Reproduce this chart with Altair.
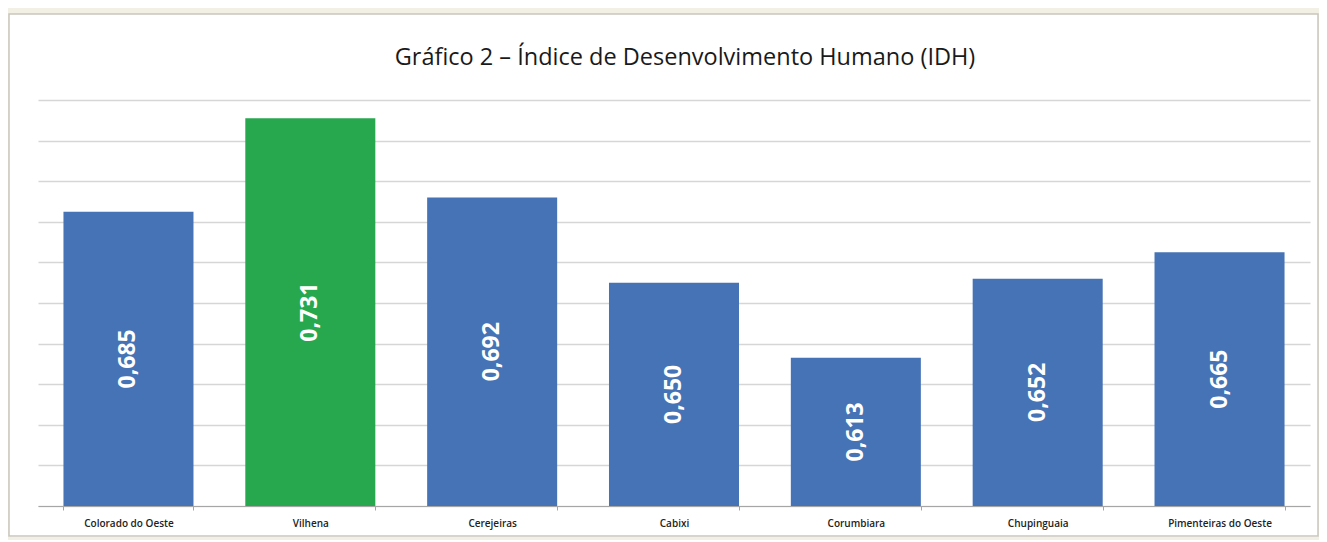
import altair as alt
import pandas as pd

titulo = "Gráfico 2 – Índice de Desenvolvimento Humano (IDH)"
municipios = ["Colorado do Oeste", "Vilhena", "Cerejeiras", "Cabixi",
              "Corumbiara", "Chupinguaia", "Pimenteiras do Oeste"]
idh = [0.685, 0.731, 0.692, 0.650, 0.613, 0.652, 0.665]
cores = ["#4673b5", "#27a84f", "#4673b5", "#4673b5", "#4673b5", "#4673b5", "#4673b5"]
grid_vals = [0.54, 0.56, 0.58, 0.60, 0.62, 0.64, 0.66, 0.68, 0.70, 0.72, 0.74]

df = pd.DataFrame({"municipio": municipios, "idh": idh, "cor": cores})
df_t = pd.DataFrame({"t": [titulo]})

W, H = 1272, 406
ymin, ymax = 0.54, 0.74

base = alt.Chart(df)

# beige surround (wide stroke just outside the white panel) and the panel border
surround = alt.Chart(df_t).mark_rect(
    fillOpacity=0, stroke="#f2efe4", strokeWidth=14, clip=False
).encode(x=alt.value(-36), x2=alt.value(1287), y=alt.value(-93), y2=alt.value(444))

border = alt.Chart(df_t).mark_rect(
    fillOpacity=0, stroke="#c9c6bd", strokeWidth=1.5, clip=False
).encode(x=alt.value(-29), x2=alt.value(1280), y=alt.value(-86), y2=alt.value(436))

title_txt = alt.Chart(df_t).mark_text(
    font="Open Sans", fontSize=23.5, color="#1a1a1a", align="center", baseline="middle"
).encode(x=alt.value(W / 2 + 11), y=alt.value(-42), text="t:N")

x_enc = alt.X("municipio:N", sort=municipios, title=None,
              scale=alt.Scale(paddingInner=0.285, paddingOuter=0.14),
              axis=alt.Axis(labelAngle=0, labelFont="Open Sans", labelFontSize=10,
                            labelFontWeight=600, labelColor="#222222", labelPadding=8,
                            domainColor="#a6a6a6", tickColor="#a6a6a6", tickSize=4,
                            tickBand="extent", grid=False))
y_enc = alt.Y("idh:Q", title=None,
              scale=alt.Scale(domain=[ymin, ymax], zero=False, nice=False),
              axis=alt.Axis(values=grid_vals, labels=False, ticks=False, domain=False,
                            grid=True, gridColor="#d6d6d6", gridWidth=1.3))

bars = base.mark_bar().encode(
    x=x_enc, y=y_enc, y2=alt.datum(ymin), color=alt.Color("cor:N", scale=None)
)

texts = base.transform_calculate(
    mid=f"(datum.idh + {ymin}) / 2",
    rotulo="replace(format(datum.idh, '.3f'), '.', ',')"
).mark_text(
    angle=270, font="Open Sans", fontSize=23, fontWeight="bold", color="white",
    align="center", baseline="middle"
).encode(
    x=alt.X("municipio:N", sort=municipios),
    y=alt.Y("mid:Q", scale=alt.Scale(domain=[ymin, ymax], zero=False, nice=False)),
    text="rotulo:N"
)

chart = alt.layer(bars, texts, surround, border, title_txt).properties(
    width=W, height=H,
    autosize=alt.AutoSizeParams(type="none"),
    padding={"left": 30, "top": 92, "right": 9, "bottom": 34},
    background="white"
).configure_view(stroke=None)

chart.save("out.html", embed_options={"renderer": "svg", "actions": False})
